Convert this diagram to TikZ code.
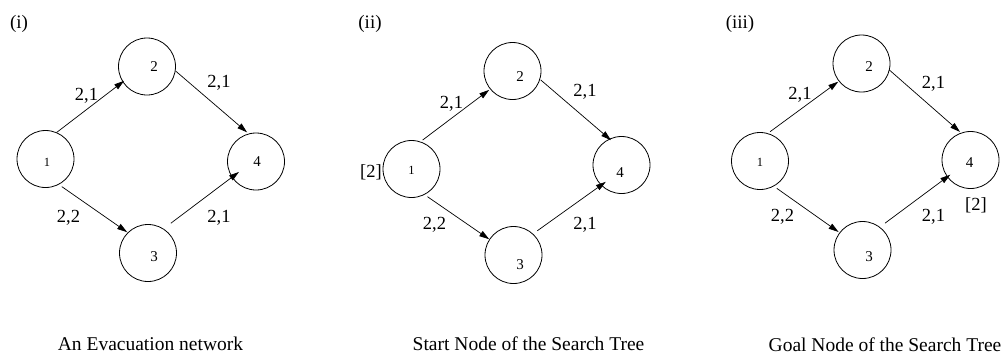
\documentclass[tikz,border=0pt]{standalone}
\usepackage{fontspec}
\setmainfont{Liberation Serif}
\usetikzlibrary{arrows.meta,calc}
\begin{document}
\begin{tikzpicture}[x=1pt,y=-1pt]
\tikzset{
  vtx/.style={circle, draw, line width=0.8pt, minimum size=57pt, inner sep=0pt},
  num/.style={font=\fontsize{15}{16}\selectfont, inner sep=0pt},
  numsm/.style={font=\fontsize{12.5}{14}\selectfont, inner sep=0pt},
  arr/.style={line width=0.7pt, -{Triangle[length=10pt,width=6pt]}},
  wt/.style={font=\fontsize{18.5}{20}\selectfont, anchor=base, inner sep=0pt},
  tag/.style={font=\fontsize{19}{21}\selectfont, inner sep=0pt},
  captext/.style={font=\fontsize{19.5}{22}\selectfont, anchor=base, inner sep=0pt},
}
\useasboundingbox (0,0) rectangle (1008,354);

% ---------------- (i) the evacuation network ----------------
\node[tag] (t1) at (19,23.5) {(i)};
\node[vtx, label={[numsm, xshift=1.5pt, yshift=-3pt]center:1}] (a1) at (45.5,159) {};
\node[vtx, label={[num, xshift=7pt, yshift=-0.5pt]center:2}] (a2) at (147,66.5) {};
\node[vtx, label={[num, xshift=6pt, yshift=-4pt]center:3}] (a3) at (148,253) {};
\node[vtx, label={[num, xshift=1pt, yshift=-0.5pt]center:4}] (a4) at (256,161.5) {};
\draw[arr] ($(a1)+(67:29pt)$) -- ($(a2)+(212:27pt)$);
\draw[arr] ($(a2)+(-9:29pt)$) -- ($(a4)+(107:30.5pt)$);
\draw[arr] ($(a1)+(-59.5:32pt)$) -- ($(a3)+(135:29.5pt)$);
\draw[arr] ($(a3)+(52.5:37.5pt)$) -- ($(a4)+(211.5:20pt)$);
\node[wt] (wa12) at (86.5,100) {2,1};
\node[wt] (wa24) at (219,87) {2,1};
\node[wt] (wa13) at (68.5,222) {2,2};
\node[wt] (wa34) at (219,222) {2,1};
\node[captext] (ca) at (150.5,350) {An Evacuation network};

% ---------------- (ii) start node of the search tree ----------------
\node[tag] (t2) at (370,23.5) {(ii)};
\node[vtx, label={[numsm, xshift=0pt, yshift=-1pt]center:1}] (b1) at (411.5,169) {};
\node[vtx, label={[num, xshift=7.5pt, yshift=-5.5pt]center:2}] (b2) at (512.5,71) {};
\node[vtx, label={[num, xshift=6.5pt, yshift=-9.5pt]center:3}] (b3) at (513.5,255) {};
\node[vtx, label={[num, xshift=-1.5pt, yshift=-7.5pt]center:4}] (b4) at (621.5,165) {};
\draw[arr] ($(b1)+(69:31pt)$) -- ($(b2)+(219:30pt)$);
\draw[arr] ($(b2)+(-17.5:29.5pt)$) -- ($(b4)+(113:27pt)$);
\draw[arr] ($(b1)+(-60:32pt)$) -- ($(b3)+(147:29pt)$);
\draw[arr] ($(b3)+(45.5:34pt)$) -- ($(b4)+(227:23pt)$);
\node[wt] (wb12) at (451.5,108) {2,1};
\node[wt] (wb24) at (585,96) {2,1};
\node[wt] (wb13) at (434.5,229) {2,2};
\node[wt] (wb34) at (585,229) {2,1};
\node[wt] (pb) at (371,177) {[2]};
\node[captext] (cb) at (528.5,350) {Start Node of the Search Tree};

% ---------------- (iii) goal node of the search tree ----------------
\node[tag] (t3) at (740,23.5) {(iii)};
\node[vtx, label={[numsm, xshift=0pt, yshift=-1.3pt]center:1}] (c1) at (760,161) {};
\node[vtx, label={[num, xshift=7.5pt, yshift=-3pt]center:2}] (c2) at (861.5,63.5) {};
\node[vtx, label={[num, xshift=6.5pt, yshift=-6.5pt]center:3}] (c3) at (862.5,250) {};
\node[vtx, label={[num, xshift=-1pt, yshift=-2.3pt]center:4}] (c4) at (970.5,160) {};
\draw[arr] ($(c1)+(71:31pt)$) -- ($(c2)+(218:29.5pt)$);
\draw[arr] ($(c2)+(-13:28.5pt)$) -- ($(c4)+(110.5:30pt)$);
\draw[arr] ($(c1)+(-58.5:32pt)$) -- ($(c3)+(143:30pt)$);
\draw[arr] ($(c3)+(50:35pt)$) -- ($(c4)+(216:25pt)$);
\node[wt] (wc12) at (800,99) {2,1};
\node[wt] (wc24) at (933.5,88) {2,1};
\node[wt] (wc13) at (782.5,221) {2,2};
\node[wt] (wc34) at (933.5,221) {2,1};
\node[wt] (pc) at (976,210) {[2]};
\node[captext] (cc) at (885,351) {Goal Node of the Search Tree};
\end{tikzpicture}
\end{document}
